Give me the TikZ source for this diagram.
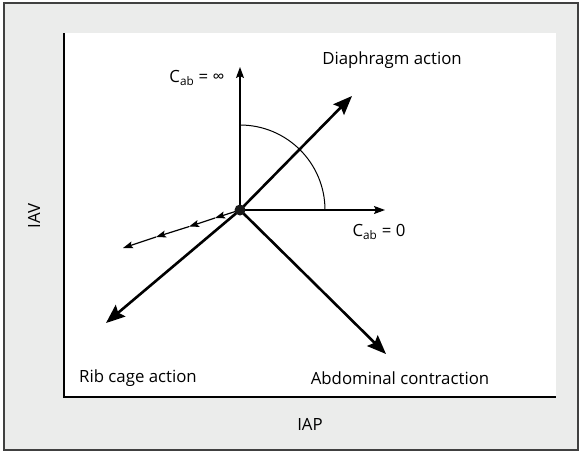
\documentclass[tikz,border=0pt]{standalone}
\usepackage{fontspec}
\setmainfont{Open Sans}
\usetikzlibrary{arrows.meta}
\definecolor{bgrey}{HTML}{EBECEB}
\definecolor{fgrey}{HTML}{404040}
\tikzset{
  big/.style={line width=2.6pt,-{Stealth[length=19pt,width=15pt,inset=3pt]}},
  thin/.style={line width=1.2pt,-{Stealth[length=11pt,width=8pt,inset=2pt]}},
  small/.style={line width=1.2pt,-{Stealth[length=10pt,width=7pt,inset=2pt]}},
  lbl/.style={inner sep=0pt,font=\fontsize{16.8}{19}\selectfont},
}
\begin{document}
\begin{tikzpicture}[x=1pt,y=-1pt]
\useasboundingbox (0,0) rectangle (579,451);
\fill[bgrey] (4,3) rectangle (578,450);
\draw[fgrey,line width=1.5pt] (4,3) rectangle (578,450);
\fill[white] (64,33) rectangle (556,397);
\coordinate (ytop) at (64,33);
\coordinate (corner) at (64,397);
\coordinate (xend) at (556,397);
\draw[line width=1.4pt] (ytop) -- (corner) -- (xend);

\coordinate (O) at (240,210);
\coordinate (up) at (240,67);
\coordinate (right) at (385,210);
\coordinate (dia) at (352,96);
\coordinate (rib) at (106,323);
\coordinate (abd) at (386,354);
\coordinate (s1) at (215,218);
\coordinate (s2) at (189,226.6);
\coordinate (s3) at (156,237);
\coordinate (s4) at (123,248);

\draw[thin] (O) -- (up);
\draw[thin] (O) -- (right);
\draw[line width=1pt] (240,125) arc[start angle=90,end angle=0,radius=85pt];
\draw[small] (O) -- (s1);
\draw[small] (s1) -- (s2);
\draw[small] (s2) -- (s3);
\draw[small] (s3) -- (s4);
\draw[big] (O) -- (dia);
\draw[big] (O) -- (rib);
\draw[big] (O) -- (abd);
\node[circle,fill=black!90,inner sep=0pt,minimum size=11pt] (dot) at (O) {};

\node[lbl] (cinf) at (197,78) {C\textsubscript{ab} = ∞};
\node[lbl] (dlab) at (392,60) {Diaphragm action};
\node[lbl] (czero) at (379,232) {C\textsubscript{ab} = 0};
\node[lbl] (rlab) at (138,378) {Rib cage action};
\node[lbl] (alab) at (400,378) {Abdominal contraction};
\node[lbl] (iap) at (310,424) {IAP};
\node[lbl,rotate=90] (iav) at (34,216) {IAV};
\end{tikzpicture}
\end{document}
